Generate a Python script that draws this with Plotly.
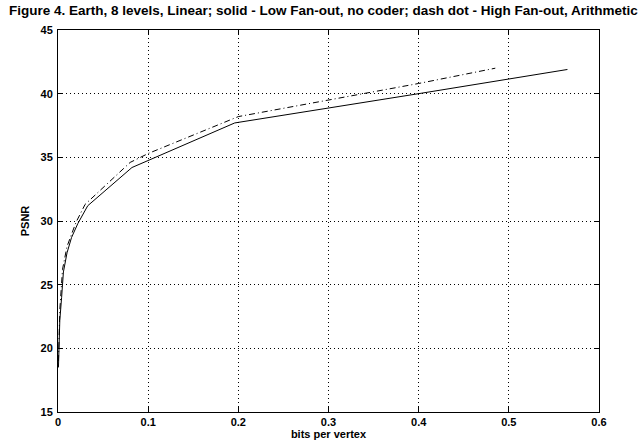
import plotly.graph_objects as go

# Solid: Low Fan-out, no coder
low_x = [0.0005, 0.001, 0.002, 0.004, 0.006, 0.010, 0.015, 0.022, 0.033, 0.082, 0.196, 0.400, 0.565]
low_y = [18.5, 20.0, 22.2, 24.0, 26.0, 27.5, 28.7, 29.8, 31.2, 34.2, 37.7, 40.0, 41.9]

# Dash dot: High Fan-out, Arithmetic
high_x = [0.0005, 0.002, 0.005, 0.010, 0.020, 0.030, 0.080, 0.100, 0.200, 0.300, 0.400, 0.485]
high_y = [19.0, 23.0, 26.2, 28.0, 29.9, 31.3, 34.6, 35.3, 38.2, 39.5, 40.8, 42.0]

x_ticks = [0, 0.1, 0.2, 0.3, 0.4, 0.5, 0.6]
x_labels = ["0", "0.1", "0.2", "0.3", "0.4", "0.5", "0.6"]
y_ticks = [15, 20, 25, 30, 35, 40, 45]

title_text = "Figure 4. Earth, 8 levels, Linear; solid - Low Fan-out, no coder; dash dot - High Fan-out, Arithmetic"

fig = go.Figure()
fig.add_trace(go.Scatter(x=low_x, y=low_y, mode="lines",
                         line=dict(color="black", width=1), showlegend=False))
fig.add_trace(go.Scatter(x=high_x, y=high_y, mode="lines",
                         line=dict(color="black", width=1, dash="6px,3px,1px,3px"),
                         showlegend=False))

FAM = "Liberation Sans, Arial, sans-serif"
font = dict(family=FAM, size=11, color="black")
axis_common = dict(
    showline=True, linecolor="black", linewidth=1, mirror="ticks",
    ticks="inside", ticklen=5, tickcolor="black",
    showgrid=True, gridcolor="black", gridwidth=1, griddash="1px,3px",
    zeroline=False, automargin=False, tickfont=dict(family=FAM, size=11, color="black"),
)

fig.update_layout(
    width=639, height=445,
    margin=dict(l=58, r=40, t=30, b=33),
    paper_bgcolor="white", plot_bgcolor="white",
    font=font,
    xaxis=dict(range=[0, 0.6], tickvals=x_ticks, ticktext=["<b>%s</b>" % t for t in x_labels],
               ticklabelstandoff=0,
               title=dict(text="<b>bits per vertex</b>", standoff=2, font=font), **axis_common),
    yaxis=dict(range=[15, 45], tickvals=y_ticks, ticktext=["<b>%d</b>" % t for t in y_ticks],
               ticklabelstandoff=2,
               title=dict(text="<b>PSNR</b>", standoff=8, font=font), **axis_common),
    annotations=[dict(text="<b>%s</b>" % title_text, x=(323 - 58) / 541, y=1 + 20 / 382,
                      xref="paper", yref="paper", xanchor="center", yanchor="middle",
                      showarrow=False, font=dict(family=FAM, size=13.5, color="black"))],
)

fig.write_html("out.html")
